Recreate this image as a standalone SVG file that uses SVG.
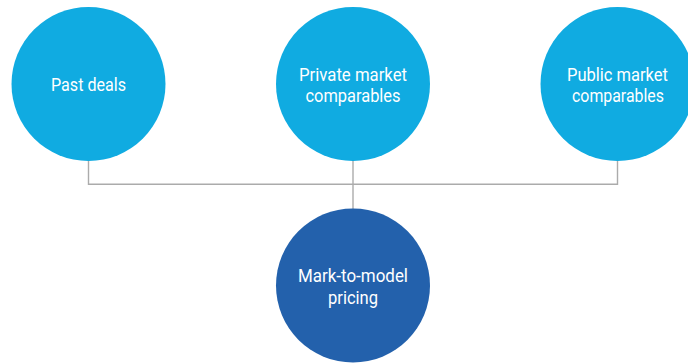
<svg xmlns="http://www.w3.org/2000/svg" width="688" height="364" viewBox="0 0 688 364">
<style>
.src{fill:#10ABE1}
.dst{fill:#2361AC}
.lbl{font-family:Roboto,"Liberation Sans",sans-serif;font-size:18.5px;fill:#fff;text-anchor:middle}
.conn{fill:none;stroke:#ABABAB;stroke-width:1.4}
</style>
<rect width="688" height="364" fill="#fff"/>
<g id="connectors">
<polyline class="conn" points="88.5,158 88.5,184.3 617.5,184.3 617.5,158"/>
<line class="conn" x1="353" y1="158" x2="353" y2="212"/>
</g>
<g id="past-deals">
<circle class="src" cx="88.5" cy="84" r="77"/>
<text class="lbl" x="88.5" y="91" textLength="75" lengthAdjust="spacingAndGlyphs">Past deals</text>
</g>
<g id="private-market">
<circle class="src" cx="353" cy="84" r="77"/>
<text class="lbl" x="353" y="80.7" textLength="108" lengthAdjust="spacingAndGlyphs">Private market</text>
<text class="lbl" x="353" y="101.9" textLength="95" lengthAdjust="spacingAndGlyphs">comparables</text>
</g>
<g id="public-market">
<circle class="src" cx="617.5" cy="84" r="77"/>
<text class="lbl" x="617.5" y="80.7" textLength="101" lengthAdjust="spacingAndGlyphs">Public market</text>
<text class="lbl" x="618" y="101.9" textLength="92" lengthAdjust="spacingAndGlyphs">comparables</text>
</g>
<g id="mark-to-model">
<circle class="dst" cx="353" cy="285.5" r="77"/>
<text class="lbl" x="353" y="282.3" textLength="110" lengthAdjust="spacingAndGlyphs">Mark-to-model</text>
<text class="lbl" x="353" y="304" textLength="50" lengthAdjust="spacingAndGlyphs">pricing</text>
</g>
</svg>
